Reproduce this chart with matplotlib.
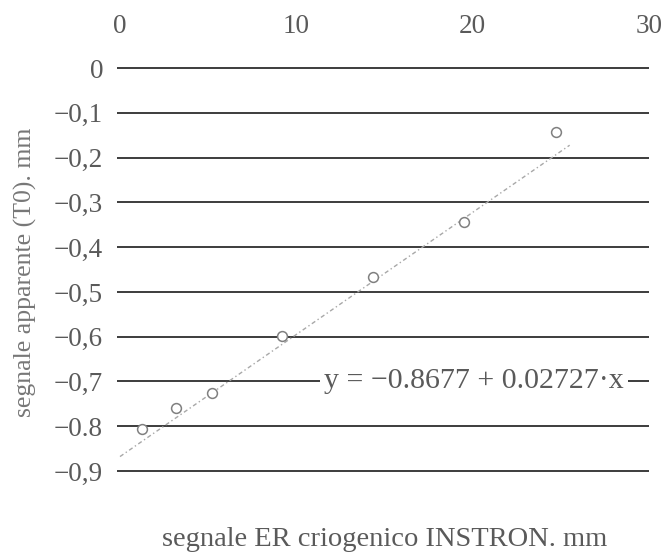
import matplotlib
matplotlib.use("Agg")
import matplotlib.pyplot as plt
import numpy as np

# data
x_vals = [1.25, 3.2, 5.2, 9.2, 14.35, 19.5, 24.7]
y_vals = [-0.806, -0.759, -0.726, -0.598, -0.467, -0.344, -0.143]
fit_intercept = -0.8677
fit_slope = 0.02727
fit_x_range = [0.0, 25.5]
x_ticks = [0, 10, 20, 30]
x_ticklabels = ["0", "10", "20", "30"]
y_ticks = [0, -0.1, -0.2, -0.3, -0.4, -0.5, -0.6, -0.7, -0.8, -0.9]
y_ticklabels = ["0", "\u22120,1", "\u22120,2", "\u22120,3", "\u22120,4", "\u22120,5",
                "\u22120,6", "\u22120,7", "\u22120.8", "\u22120,9"]
equation = "y = \u22120.8677 + 0.02727\u00b7x"
xlabel = "segnale ER criogenico INSTRON. mm"
ylabel = "segnale apparente (T0). mm"

plt.rcParams['font.family'] = ['Liberation Serif', 'DejaVu Serif']
text_col = "#5a5a5a"
grid_col = "#3c3c3c"

fig = plt.figure(figsize=(6.66, 5.54), dpi=100)
W, H = 666, 554
left, right, top, bottom = 117, 649, 60, 480
ax = fig.add_axes([left / W, 1 - bottom / H, (right - left) / W, (bottom - top) / H])

ax.set_xlim(-0.17, 29.84)
ax.set_ylim(-0.92, 0.018)

for s in ax.spines.values():
    s.set_visible(False)

ax.set_yticks(y_ticks)
ax.set_yticklabels(y_ticklabels)
ax.set_xticks(x_ticks)
ax.set_xticklabels(x_ticklabels)
ax.xaxis.tick_top()
ax.tick_params(axis='both', length=0, labelsize=19.5, colors=text_col)
ax.tick_params(axis='x', pad=15)
ax.tick_params(axis='y', pad=10)
ax.yaxis.grid(True, color=grid_col, linewidth=1.4)
ax.xaxis.grid(False)
ax.set_axisbelow(True)

# fit line
fx = np.array(fit_x_range)
fy = fit_intercept + fit_slope * fx
ax.plot(fx, fy, linestyle=(0, (3, 2, 1, 2)), color="#a8a8a8", linewidth=1.0, zorder=2)

# data points
ax.scatter(x_vals, y_vals, s=50, facecolors="white", edgecolors="#808080",
           linewidths=1.1, zorder=3)

# equation text with white background interrupting gridline
ax.text(20.08, -0.7, equation, ha='center', va='center', fontsize=21.5, color=text_col,
        bbox=dict(facecolor='white', edgecolor='none', pad=3), zorder=4)

fig.text(385 / W, 1 - 540 / H, xlabel, ha='center', va='center', fontsize=20.5, color=text_col)
fig.text(25 / W, 1 - 272 / H, ylabel, ha='center', va='center', rotation=90,
         fontsize=18.5, color="#777777")

fig.savefig("out.png", dpi=100)
